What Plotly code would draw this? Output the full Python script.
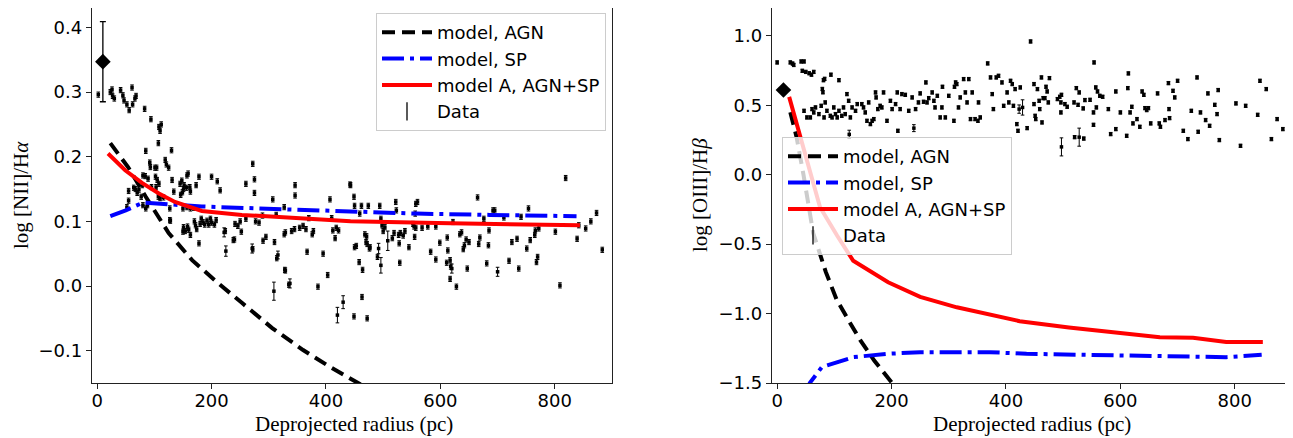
import plotly.graph_objects as go

# ---------------- Left panel: log [NII]/Halpha ----------------
left_x = [2, 23, 26, 27, 30, 41, 45, 47, 52, 56, 61, 62, 66, 68, 83, 94, 107, 108, 110, 112,
          130, 85, 119, 121, 125, 92, 93, 101, 104, 84, 89, 80, 102, 105, 108, 103, 131, 134, 145, 148,
          151, 149, 146, 152, 159, 157, 156, 162, 163, 173, 178, 200, 210, 215, 260, 272, 275, 275, 307, 346,
          346, 327, 407, 443, 55, 64, 67, 70, 73, 77, 79, 55, 52, 85, 88, 107, 110, 116, 127, 128,
          150, 157, 163, 169, 150, 151, 158, 160, 163, 170, 172, 174, 180, 182, 185, 188, 192, 195, 198, 200,
          205, 208, 178, 224, 225, 241, 246, 250, 240, 252, 260, 271, 277, 283, 289, 290, 295, 310, 313, 309,
          316, 327, 329, 329, 337, 340, 345, 354, 360, 365, 367, 370, 376, 378, 386, 395, 403, 410, 412, 418,
          422, 416, 420, 430, 449, 450, 462, 474, 459, 494, 496, 498, 500, 503, 522, 523, 468, 471, 470, 472,
          476, 477, 450, 453, 458, 464, 463, 449, 472, 490, 492, 496, 508, 516, 519, 527, 528, 529, 530, 535,
          538, 545, 552, 554, 557, 555, 557, 560, 556, 568, 578, 592, 583, 592, 599, 612, 613, 611, 617, 618,
          620, 617, 622, 628, 634, 637, 640, 642, 645, 647, 650, 665, 667, 669, 676, 681, 684, 685, 692, 695,
          700, 711, 720, 725, 734, 737, 741, 751, 754, 757, 765, 766, 768, 770, 772, 801, 809, 819, 839, 842,
          854, 863, 873, 883, 442, 127, 154, 222, 238, 272, 314, 328, 335, 80, 95]
left_y = [0.296, 0.300, 0.304, 0.294, 0.290, 0.303, 0.295, 0.287, 0.281, 0.272, 0.307, 0.281, 0.290, 0.294, 0.274, 0.258, 0.221, 0.246, 0.240, 0.250,
          0.210, 0.209, 0.195, 0.188, 0.183, 0.191, 0.184, 0.183, 0.183, 0.170, 0.166, 0.171, 0.169, 0.164, 0.158, 0.153, 0.164, 0.146, 0.158, 0.163,
          0.150, 0.145, 0.141, 0.156, 0.174, 0.171, 0.152, 0.153, 0.146, 0.156, 0.169, 0.169, 0.162, 0.148, 0.158, 0.189, 0.165, 0.144, 0.134, 0.156,
          0.140, 0.122, 0.134, 0.156, 0.147, 0.152, 0.150, 0.144, 0.149, 0.138, 0.156, 0.132, 0.122, 0.120, 0.125, 0.138, 0.136, 0.137, 0.120, 0.101,
          0.120, 0.122, 0.120, 0.121, 0.084, 0.091, 0.092, 0.087, 0.079, 0.100, 0.094, 0.088, 0.096, 0.104, 0.099, 0.095, 0.101, 0.095, 0.104, 0.098,
          0.095, 0.102, 0.066, 0.085, 0.054, 0.096, 0.093, 0.100, 0.072, 0.084, 0.104, 0.058, 0.100, 0.098, 0.109, 0.070, 0.076, 0.068, 0.110, -0.008,
          0.048, 0.080, 0.083, 0.024, 0.004, 0.085, 0.088, 0.090, 0.093, 0.088, 0.053, 0.105, 0.080, 0.085, -0.001, 0.050, 0.017, 0.105, 0.086, 0.090,
          0.086, 0.074, -0.045, -0.025, 0.138, 0.124, 0.124, 0.124, 0.112, 0.124, 0.104, 0.094, 0.085, 0.091, 0.130, 0.117, 0.080, 0.077, 0.068, 0.065,
          0.058, 0.060, 0.060, 0.062, 0.037, 0.025, -0.017, -0.047, -0.050, 0.045, 0.058, 0.032, 0.070, 0.074, 0.082, 0.079, 0.066, 0.036, 0.082, 0.078,
          0.085, 0.060, 0.096, 0.092, 0.090, 0.076, 0.127, 0.130, 0.112, 0.090, 0.092, 0.092, 0.053, 0.041, 0.067, 0.075, 0.055, 0.036, 0.040, 0.030,
          0.027, 0.011, 0.099, -0.001, 0.080, 0.083, 0.057, 0.063, 0.072, 0.027, 0.068, 0.137, 0.065, 0.075, 0.104, 0.035, 0.063, 0.086, 0.117, 0.117,
          0.022, 0.106, 0.039, 0.068, 0.073, 0.027, 0.107, 0.058, 0.120, 0.071, 0.079, 0.086, 0.037, 0.045, 0.089, 0.084, 0.001, 0.167, 0.073, 0.094,
          0.089, 0.100, 0.113, 0.056, 0.157, 0.102, 0.085, 0.083, 0.071, 0.057, 0.043, 0.025, 0.002, 0.125, 0.153]
left_err = [0.004 for _ in left_x]
left_big_err = {119: 0.014, 170: 0.008, 171: 0.012, 172: 0.015, 142: 0.012, 143: 0.01, 104: 0.008,
                111: 0.007, 120: 0.006, 124: 0.007, 247: 0.007, 200: 0.007, 220: 0.007}
for _i, _e in left_big_err.items():
    left_err[_i] = _e

left_nuc_x = [10]
left_nuc_y = [0.347]
left_nuc_err = [0.062]

left_agn_x = [23, 54, 85, 125, 166, 212, 253, 306, 360, 407, 460, 520]
left_agn_y = [0.221, 0.184, 0.138, 0.082, 0.040, 0.004, -0.026, -0.065, -0.099, -0.125, -0.152, -0.185]
left_sp_x = [23, 50, 80, 120, 183, 282, 443, 558, 686, 838]
left_sp_y = [0.108, 0.117, 0.129, 0.127, 0.123, 0.120, 0.115, 0.112, 0.110, 0.108]
left_mod_x = [19, 49, 79, 108, 136, 183, 253, 341, 443, 617, 844]
left_mod_y = [0.205, 0.179, 0.159, 0.143, 0.130, 0.116, 0.110, 0.106, 0.100, 0.097, 0.094]

# ---------------- Right panel: log [OIII]/Hbeta ----------------
right_x = [0, 23, 27, 29, 42, 47, 44, 50, 56, 60, 64, 81, 83, 94, 108, 79, 80, 47,
           52, 58, 61, 64, 67, 73, 77, 82, 84, 87, 93, 96, 99, 102, 105, 108, 113, 116, 119, 122, 125, 128, 131, 137, 140,
           126, 148, 151, 154, 157, 160, 163, 166, 169, 172, 173, 176, 180, 183, 186, 192, 198, 201, 207, 210, 211, 215, 218,
           224, 230, 236, 239, 242, 247, 250, 256, 260, 262, 265, 271, 274, 276, 280, 285, 288, 289, 294, 300, 309, 310, 312,
           314, 317, 320, 326, 329, 332, 335, 338, 341, 346, 351, 352, 355, 368, 373, 376, 378, 383, 387, 393, 396, 402, 405,
           408, 411, 413, 416, 419, 421, 423, 425, 429, 437, 443,
           449, 455, 462, 470, 472, 476, 449, 458, 465, 468, 474, 451, 452, 459, 463,
           490, 494, 497, 496, 496, 503, 507, 519, 523, 528, 526, 535, 538, 547, 553, 554, 557, 560, 564, 569, 558, 553,
           579, 583, 592, 592, 600, 611, 614, 613, 617, 620, 622, 629, 634, 638, 641, 643, 646, 649, 653, 665, 668, 670,
           678, 684, 685, 686, 692, 695, 700, 710, 718, 724, 734, 736, 740, 749, 753, 756, 765, 769, 771, 773, 802, 810,
           819, 840, 844, 855, 864, 874, 884, 497, 528, 520, 536]
right_y = [0.808, 0.808, 0.800, 0.790, 0.815, 0.815, 0.748, 0.740, 0.730, 0.720, 0.740, 0.680, 0.690, 0.720, 0.680, 0.617, 0.593, 0.460,
           0.412, 0.412, 0.472, 0.448, 0.484, 0.436, 0.496, 0.412, 0.520, 0.460, 0.424, 0.412, 0.484, 0.436, 0.412, 0.460, 0.424, 0.484, 0.436, 0.580, 0.532, 0.412, 0.484, 0.460, 0.508,
           0.290, 0.508, 0.484, 0.448, 0.388, 0.520, 0.364, 0.388, 0.400, 0.592, 0.556, 0.472, 0.496, 0.484, 0.592, 0.388, 0.532, 0.472, 0.508, 0.592, 0.316, 0.472, 0.580,
           0.575, 0.460, 0.556, 0.335, 0.472, 0.520, 0.585, 0.525, 0.664, 0.520, 0.551, 0.592, 0.532, 0.484, 0.568, 0.412, 0.484, 0.633, 0.412, 0.568, 0.388, 0.633, 0.664,
           0.652, 0.484, 0.556, 0.688, 0.592, 0.520, 0.688, 0.400, 0.592, 0.400, 0.388, 0.520, 0.412, 0.801, 0.700, 0.580, 0.472, 0.700, 0.712, 0.664, 0.496, 0.592, 0.520,
           0.676, 0.652, 0.496, 0.616, 0.364, 0.316, 0.472, 0.628, 0.484, 0.335, 0.959,
           0.652, 0.616, 0.700, 0.633, 0.599, 0.695, 0.508, 0.532, 0.551, 0.551, 0.520, 0.424, 0.400, 0.472, 0.376,
           0.544, 0.561, 0.575, 0.520, 0.448, 0.508, 0.489, 0.520, 0.623, 0.592, 0.503, 0.477, 0.537, 0.539, 0.448, 0.808, 0.628, 0.599, 0.568, 0.561, 0.484, 0.359,
           0.472, 0.292, 0.328, 0.599, 0.448, 0.280, 0.729, 0.623, 0.448, 0.489, 0.369, 0.400, 0.345, 0.599, 0.575, 0.479, 0.465, 0.479, 0.369, 0.585, 0.369, 0.345,
           0.393, 0.659, 0.472, 0.407, 0.604, 0.556, 0.676, 0.316, 0.256, 0.460, 0.700, 0.309, 0.448, 0.393, 0.585, 0.352, 0.503, 0.436, 0.609, 0.249, 0.513, 0.208,
           0.496, 0.431, 0.676, 0.616, 0.256, 0.400, 0.328, 0.200, 0.270, 0.270, 0.260]
right_err = [0.012 for _ in right_x]
right_big_err = {len(right_x) - 4: 0.065, len(right_x) - 3: 0.065, 120: 0.055, 43: 0.03, 118: 0.03, 69: 0.025}
for _i, _e in right_big_err.items():
    right_err[_i] = _e

right_nuc_x = [11]
right_nuc_y = [0.61]
right_nuc_err = [0.02]

right_agn_x = [23, 34, 46, 63, 85, 104, 125, 145, 170, 200, 230]
right_agn_y = [0.45, 0.27, 0.0, -0.42, -0.70, -0.90, -1.05, -1.19, -1.34, -1.50, -1.65]
right_sp_x = [23, 57, 78, 133, 192, 250, 320, 372, 436, 599, 785, 847]
right_sp_y = [-2.4, -1.50, -1.386, -1.314, -1.290, -1.278, -1.278, -1.278, -1.290, -1.302, -1.314, -1.297]
right_mod_x = [21, 34, 43, 75, 105, 133, 194, 250, 314, 372, 424, 510, 599, 669, 727, 785, 849]
right_mod_y = [0.56, 0.37, 0.245, -0.235, -0.44, -0.62, -0.775, -0.88, -0.955, -1.007, -1.055, -1.10, -1.14, -1.17, -1.175, -1.205, -1.205]

x_ticks = [0, 200, 400, 600, 800]
left_y_ticks = [-0.1, 0.0, 0.1, 0.2, 0.3, 0.4]
right_y_ticks = [-1.5, -1.0, -0.5, 0.0, 0.5, 1.0]

labels = ["model, AGN", "model, SP", "model A, AGN+SP", "Data"]
x_title = "Deprojected radius (pc)"
left_y_title = "log [NII]/H<i>α</i>"
right_y_title = "log [OIII]/H<i>β</i>"

# ---------------- Figure ----------------
fig = go.Figure()
W, H = 1293, 438
OFF = 8                      # page body margin of the html page
TOP, BOT = 0, 383 - OFF      # plot area top / bottom in figure pixels
PH = BOT - TOP


def px_x(page_x):
    return (page_x - OFF) / W


def px_y(page_y):
    return (BOT - (page_y - OFF)) / PH


def add_panel(xa, ya, leg, dx, dy, de, nx, ny, ne, ax_, ay_, sx, sy, mx, my):
    fig.add_trace(go.Scatter(
        x=dx, y=dy, mode="markers", name=labels[3], showlegend=False,
        xaxis=xa, yaxis=ya,
        marker=dict(symbol="square", size=3.5, color="black"),
        error_y=dict(type="data", array=de, thickness=1, width=1.8, color="black")))
    # legend-only entry drawn as an error-bar glyph
    fig.add_trace(go.Scatter(
        x=[None], y=[None], mode="markers", name=labels[3], legend=leg, legendrank=4,
        xaxis=xa, yaxis=ya,
        marker=dict(symbol="line-ns-open", size=13, color="black", line=dict(width=1.3, color="black"))))
    fig.add_trace(go.Scatter(
        x=nx, y=ny, mode="markers", showlegend=False, xaxis=xa, yaxis=ya,
        marker=dict(symbol="diamond", size=12, color="black"),
        error_y=dict(type="data", array=ne, thickness=1.3, width=3, color="black")))
    fig.add_trace(go.Scatter(
        x=ax_, y=ay_, mode="lines", name=labels[0], legend=leg, legendrank=1,
        xaxis=xa, yaxis=ya,
        line=dict(color="black", width=4, dash="13px,7px")))
    fig.add_trace(go.Scatter(
        x=sx, y=sy, mode="lines", name=labels[1], legend=leg, legendrank=2,
        xaxis=xa, yaxis=ya,
        line=dict(color="#0000ff", width=4, dash="22px,6px,4px,6px")))
    fig.add_trace(go.Scatter(
        x=mx, y=my, mode="lines", name=labels[2], legend=leg, legendrank=3,
        xaxis=xa, yaxis=ya,
        line=dict(color="#ff0000", width=4)))


add_panel("x", "y", "legend", left_x, left_y, left_err, left_nuc_x, left_nuc_y, left_nuc_err,
          left_agn_x, left_agn_y, left_sp_x, left_sp_y, left_mod_x, left_mod_y)
add_panel("x2", "y2", "legend2", right_x, right_y, right_err, right_nuc_x, right_nuc_y, right_nuc_err,
          right_agn_x, right_agn_y, right_sp_x, right_sp_y, right_mod_x, right_mod_y)

tickfont = dict(family="DejaVu Sans", size=18, color="black")
titlefont = dict(family="Liberation Serif", size=21, color="black")

common_axis = dict(showline=True, linecolor="#222", linewidth=1.3, mirror=True,
                   ticks="outside", ticklen=5, tickwidth=1.2, tickcolor="#222",
                   showgrid=False, zeroline=False, tickfont=tickfont, automargin=False)

left_dom = [px_x(92), px_x(612)]
right_dom = [px_x(772), px_x(1292)]

legend_common = dict(font=dict(family="DejaVu Sans", size=18, color="black"),
                     bgcolor="rgba(255,255,255,0.8)", bordercolor="#cccccc", borderwidth=1,
                     itemwidth=50, xanchor="left", yanchor="top", traceorder="normal",
                     tracegroupgap=0)

fig.update_layout(
    width=W, height=H,
    margin=dict(l=0, r=0, t=TOP, b=H - BOT, autoexpand=False),
    paper_bgcolor="white", plot_bgcolor="white",
    xaxis=dict(domain=left_dom, range=[-9, 900], tickvals=x_ticks, anchor="y",
               ticklabelstandoff=-4, **common_axis),
    yaxis=dict(domain=[0, 1], range=[-0.15, 0.43], tickvals=left_y_ticks, tickformat=".1f",
               anchor="x", **common_axis),
    xaxis2=dict(domain=right_dom, range=[-9, 900], tickvals=x_ticks, anchor="y2",
                ticklabelstandoff=-4, **common_axis),
    yaxis2=dict(domain=[0, 1], range=[-1.5, 1.2], tickvals=right_y_ticks, tickformat=".1f",
                anchor="x2", **common_axis),
    legend=dict(x=px_x(376), y=px_y(13), **legend_common),
    legend2=dict(x=px_x(782), y=px_y(137), **legend_common),
)

ann = dict(xref="paper", yref="paper", showarrow=False, font=titlefont)
fig.add_annotation(text=x_title, x=px_x(354), y=px_y(424), xanchor="center", yanchor="middle", **ann)
fig.add_annotation(text=x_title, x=px_x(1032), y=px_y(424), xanchor="center", yanchor="middle", **ann)
fig.add_annotation(text=left_y_title, x=px_x(21), y=px_y(195), xanchor="center", yanchor="middle",
                   textangle=-90, **ann)
fig.add_annotation(text=right_y_title, x=px_x(700), y=px_y(195), xanchor="center", yanchor="middle",
                   textangle=-90, **ann)

fig.write_html("out.html")
